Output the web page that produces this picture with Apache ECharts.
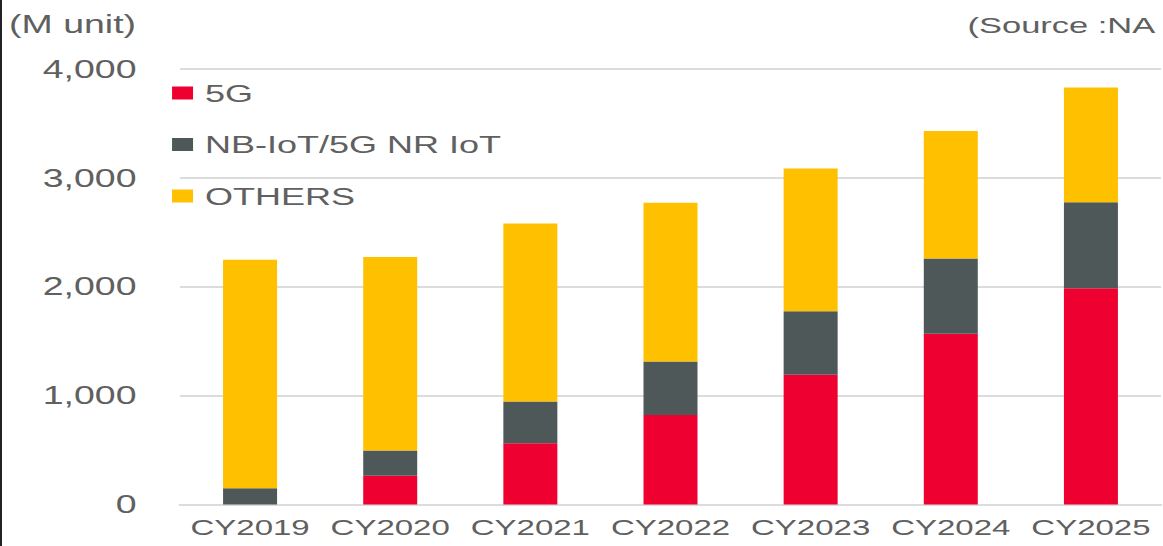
<!DOCTYPE html>
<html>
<head>
<meta charset="utf-8">
<script src="https://cdn.jsdelivr.net/npm/echarts@6/dist/echarts.min.js"></script>
<style>
  html, body { margin: 0; padding: 0; background: #fff; overflow: hidden; }
  /* the chart is laid out narrow and stretched wide, giving the broad lettering */
  #chart { width: 775.33px; height: 546px; transform: scaleX(1.5); transform-origin: 0 0; }
  #edge { position: absolute; left: 0; top: 0; width: 2px; height: 546px; background: #222; }
</style>
</head>
<body>
<div id="chart"></div>
<div id="edge"></div>
<script>
const categories = ['CY2019', 'CY2020', 'CY2021', 'CY2022', 'CY2023', 'CY2024', 'CY2025'];
const fiveG   = [0, 265, 563, 823, 1191, 1569, 1986];
const nbIot   = [149, 230, 383, 491, 583, 690, 791];
const others  = [2100, 1779, 1634, 1457, 1313, 1171, 1052];
const seriesNames = ['5G', 'NB-IoT/5G NR IoT', 'OTHERS'];
const unitLabel = '(M unit)';
const sourceLabel = '(Source :NA';

const FONT = '"Liberation Sans", Arial, sans-serif';
const TEXT = '#606060';

const chart = echarts.init(document.getElementById('chart'), null, { renderer: 'svg' });

chart.setOption({
  animation: false,
  backgroundColor: '#fff',
  textStyle: { fontFamily: FONT },
  color: ['#EE0030', '#4F5859', '#FFC000'],
  grid: { left: 120, right: 1, top: 69, bottom: 41.5, containLabel: false },
  legend: {
    orient: 'vertical',
    left: 114.7,
    top: 81,
    padding: 0,
    itemWidth: 14,
    itemHeight: 13,
    itemGap: 27.5,
    icon: 'rect',
    textStyle: { fontSize: 24, color: TEXT, fontFamily: FONT, lineHeight: 24, padding: [0, 0, 0, 3] },
    data: seriesNames
  },
  graphic: [
    { type: 'text', left: 6, top: 12, style: { text: unitLabel, fontSize: 25, fill: TEXT, fontFamily: FONT } },
    { type: 'text', left: 645, top: 13, style: { text: sourceLabel, fontSize: 23, fill: TEXT, fontFamily: FONT } }
  ],
  xAxis: {
    type: 'category',
    data: categories,
    axisTick: { show: false },
    axisLine: { show: true, lineStyle: { color: '#dcdcdc', width: 2 } },
    axisLabel: { interval: 0, fontSize: 22, color: TEXT, fontFamily: FONT, margin: 12 }
  },
  yAxis: {
    type: 'value',
    min: 0,
    max: 4000,
    interval: 1000,
    axisLine: { show: false },
    axisTick: { show: false },
    splitLine: { lineStyle: { color: '#dcdcdc', width: 2 } },
    axisLabel: {
      fontSize: 25,
      color: TEXT,
      fontFamily: FONT,
      margin: 29,
      formatter: v => v.toLocaleString('en-US')
    }
  },
  series: [
    { name: seriesNames[0], type: 'bar', stack: 'total', barWidth: 36, data: fiveG },
    { name: seriesNames[1], type: 'bar', stack: 'total', barWidth: 36, data: nbIot },
    { name: seriesNames[2], type: 'bar', stack: 'total', barWidth: 36, data: others }
  ]
});
</script>
</body>
</html>
